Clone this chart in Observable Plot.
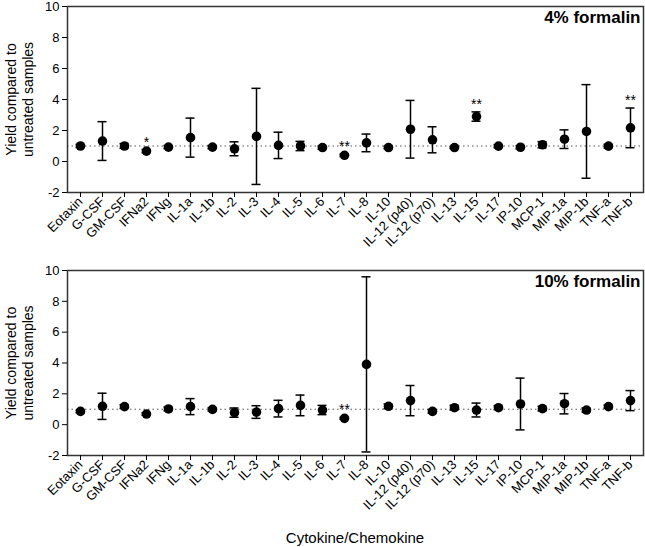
<!DOCTYPE html>
<html>
<head>
<meta charset="utf-8">
<script src="https://cdn.jsdelivr.net/npm/d3@7"></script>
<script src="https://cdn.jsdelivr.net/npm/@observablehq/plot@0.6"></script>
<style>
  body { margin: 0; background: #fff; font-family: "Liberation Sans", Arial, sans-serif; }
  #wrap { width: 645px; }
  #caption { width: 576px; padding-left: 67px; text-align: center; font-size: 15px; line-height: 16px; margin-top: 0px; color: #000; }
  svg { display: block; }
</style>
</head>
<body>
<div id="wrap">
  <div id="top"></div>
  <div id="bottom"></div>
  <div id="caption">Cytokine/Chemokine</div>
</div>
<script>
const categories = ["Eotaxin","G-CSF","GM-CSF","IFNa2","IFNg","IL-1a","IL-1b","IL-2","IL-3","IL-4","IL-5","IL-6","IL-7","IL-8","IL-10","IL-12 (p40)","IL-12 (p70)","IL-13","IL-15","IL-17","IP-10","MCP-1","MIP-1a","MIP-1b","TNF-a","TNF-b"];

const mean4 = [1.0,1.32,1.0,0.67,0.93,1.54,0.93,0.82,1.62,1.04,1.0,0.9,0.4,1.2,0.9,2.08,1.4,0.9,2.9,0.99,0.92,1.08,1.44,1.94,0.99,2.17];
const err4  = [0.1,1.25,0.15,0.1,0.1,1.26,0.1,0.45,3.1,0.85,0.3,0.1,0.08,0.57,0.08,1.86,0.84,0.06,0.3,0.1,0.1,0.2,0.6,3.02,0.12,1.28];
const sig4  = ["","","","*","","","","","","","","","**","","","","","","**","","","","","","","**"];

const mean10 = [0.86,1.19,1.17,0.69,1.02,1.17,0.99,0.78,0.82,1.04,1.25,0.95,0.41,3.91,1.19,1.56,0.86,1.1,0.95,1.1,1.34,1.04,1.36,0.95,1.17,1.56];
const err10  = [0.08,0.85,0.12,0.08,0.12,0.52,0.1,0.3,0.41,0.54,0.67,0.3,0.06,5.68,0.15,0.98,0.12,0.15,0.45,0.12,1.68,0.15,0.66,0.13,0.1,0.65];
const sig10  = ["","","","","","","","","","","","","**","","","","","","","","","","","","",""];

const yTicks = [-2,0,2,4,6,8,10];
const referenceLevel = [1];
const panelLabels = ["4% formalin", "10% formalin"];
const yLabel = "Yield compared to\nuntreated samples";

function panel(mean, err, sig, label, height, marginTop, marginBottom) {
  const data = categories.map((c, i) => ({name: c, mean: mean[i], lo: mean[i] - err[i], hi: mean[i] + err[i], sig: sig[i]}));
  return Plot.plot({
    width: 645,
    height,
    marginTop,
    marginBottom,
    marginLeft: 67,
    marginRight: 2,
    style: {fontFamily: "Liberation Sans, Arial, sans-serif", fontSize: "13px", color: "#000", background: "#fff"},
    x: {type: "band", domain: categories, padding: 0, label: null},
    y: {domain: [-2, 10], label: null},
    marks: [
      Plot.ruleY(referenceLevel, {stroke: "#555", strokeDasharray: "1.5,3", strokeWidth: 1.2}),
      Plot.frame({stroke: "#333", strokeWidth: 1.5}),
      Plot.axisY({ticks: yTicks, tickSize: 5, tickPadding: 3, tickFormat: d => String(d), fontSize: 13, label: null}),
      Plot.axisX({tickRotate: -45, tickSize: 5, tickPadding: 2, fontSize: 13, label: null}),
      Plot.ruleX(data, {x: "name", y1: "lo", y2: "hi", stroke: "#000", strokeWidth: 1.5}),
      Plot.tickY(data, {x: "name", y: "hi", stroke: "#000", strokeWidth: 1.5, insetLeft: 6.5, insetRight: 6.5}),
      Plot.tickY(data, {x: "name", y: "lo", stroke: "#000", strokeWidth: 1.5, insetLeft: 6.5, insetRight: 6.5}),
      Plot.dot(data, {x: "name", y: "mean", r: 4.8, fill: "#000", stroke: "none"}),
      Plot.text(data.filter(d => d.sig), {x: "name", y: "hi", text: "sig", dy: -3, lineAnchor: "bottom", fontSize: 14}),
      Plot.text([label], {frameAnchor: "top-right", dx: -3, dy: 4, text: d => d, fontWeight: "bold", fontSize: 17, lineAnchor: "top", textAnchor: "end"}),
      Plot.text([yLabel], {frameAnchor: "left", text: d => d, rotate: -90, dx: -48, fontSize: 14, lineHeight: 1.2, textAnchor: "middle"})
    ]
  });
}

document.getElementById("top").append(panel(mean4, err4, sig4, panelLabels[0], 255, 6, 63));
document.getElementById("bottom").append(panel(mean10, err10, sig10, panelLabels[1], 275, 15, 75));
</script>
</body>
</html>
